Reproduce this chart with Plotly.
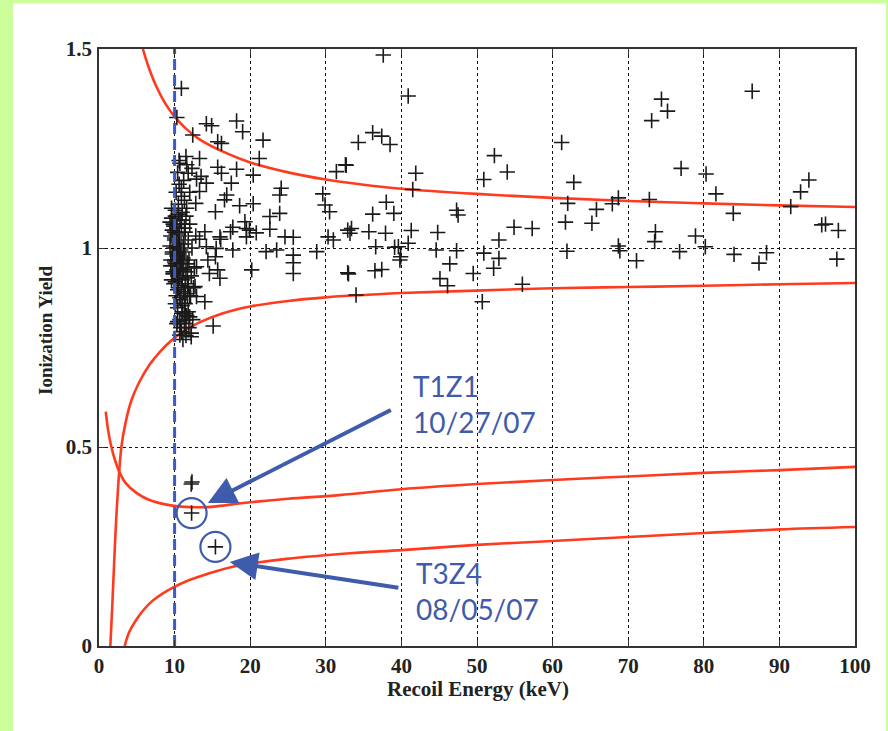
import plotly.graph_objects as go

# ---------------- data ----------------
# scattered events (recoil energy keV, ionization yield)
events_x = [
    37.6, 40.9, 34.3, 36.2, 37.4, 38.5, 32.7, 41.9, 41.5, 38.0, 36.2, 39.0, 33.4, 33.2, 35.7, 37.9, 41.3,
    39.6, 39.1, 40.9, 36.6, 39.8, 39.9, 33.0, 36.5, 37.4, 34.0, 44.8, 44.6, 47.3, 47.5, 47.3, 46.4, 45.1,
    46.1, 49.5, 50.7, 50.9, 52.9, 52.9, 52.2, 54.9, 57.3, 56.0, 50.9, 52.3, 54.0, 61.2, 62.8, 62.0, 65.8,
    61.7, 65.2, 61.9,
    74.4, 75.2, 73.1, 86.4, 77.0, 80.3, 81.6, 83.9, 93.9, 92.8, 91.5, 72.8, 68.7, 67.9, 73.6, 73.5, 68.7,
    68.9, 71.1, 76.8, 78.9, 80.2, 84.0, 87.3, 88.3, 95.6, 96.1, 97.8, 97.6,
    10.9, 10.3, 14.2, 14.9, 18.2, 19.0, 12.4, 21.7, 15.7, 16.2, 21.2, 13.3, 10.7, 11.6, 18.2, 15.7, 16.2,
    20.4, 11.8, 12.9, 17.5, 14.2, 10.9, 13.3, 16.9, 16.6, 24.1, 23.9, 12.8, 18.6, 20.4, 15.4, 23.9, 22.6,
    19.3, 17.7, 19.5, 19.9, 17.4, 20.8, 22.6, 14.0, 13.3, 16.0, 16.1, 19.5, 24.6, 25.7, 29.6, 29.9, 30.5,
    31.4, 32.6, 30.3, 31.0, 32.9, 32.9, 23.5, 25.7, 25.7, 25.7, 20.2, 22.1, 28.8, 17.7, 15.5, 15.4, 14.2,
    14.4, 12.9, 14.6, 16.0, 15.7, 14.0, 12.7, 12.9, 15.1, 12.2, 12.0, 11.5, 11.0, 11.3, 12.0, 11.8,
    9.6, 10.1, 10.5, 11.0, 11.6, 9.8, 10.3, 10.9, 11.4, 12.0, 9.5, 10.0, 10.6, 11.2, 11.8, 9.7, 10.2,
    10.8, 11.3, 12.3, 9.5, 10.1, 10.6, 11.1, 11.7, 9.8, 10.4, 11.0, 11.5, 12.2, 9.9, 10.5, 11.2, 11.8,
    10.2, 10.8, 11.4, 12.1, 10.4, 11.0, 11.6, 10.7, 11.3, 11.9, 10.9, 11.5, 12.4, 10.0, 10.7, 11.5,
    9.6, 10.3, 11.9, 12.6, 10.1, 10.6, 11.4, 12.8, 10.9, 10.2, 11.3, 9.9, 10.5, 11.7, 12.5, 10.3, 11.1,
    11.8, 10.8, 10.0, 10.4, 11.2, 12.3, 10.6, 12.0, 13.5, 10.6, 11.5, 12.2, 10.7,
    9.4, 9.7, 10.0, 10.3, 10.6, 10.9, 11.2, 9.5, 9.8, 10.1, 10.4, 10.7, 11.0, 11.3, 9.6, 9.9, 10.2,
    10.5, 10.8, 11.1, 9.4, 9.7, 10.0, 10.3, 10.6, 10.9, 11.4, 10.1, 10.5, 10.9, 11.3, 11.7, 10.4, 10.8,
    12.2, 12.3,
]
events_y = [
    1.485, 1.382, 1.265, 1.290, 1.281, 1.260, 1.208, 1.188, 1.147, 1.115, 1.085, 1.087, 1.049, 1.037,
    1.041, 1.037, 1.044, 1.003, 1.002, 1.012, 1.003, 0.970, 0.978, 0.935, 0.943, 0.946, 0.882, 1.039,
    0.995, 1.095, 1.083, 0.993, 0.960, 0.923, 0.905, 0.936, 0.865, 0.987, 1.020, 0.974, 0.949, 1.052,
    1.049, 0.909, 1.172, 1.232, 1.191, 1.265, 1.165, 1.112, 1.097, 1.065, 1.062, 0.992,
    1.374, 1.344, 1.320, 1.394, 1.200, 1.186, 1.136, 1.087, 1.171, 1.141, 1.104, 1.122, 1.126, 1.111,
    1.041, 1.016, 1.005, 0.993, 0.968, 0.991, 1.030, 1.003, 0.984, 0.962, 0.988, 1.058, 1.060, 1.044,
    0.972,
    1.401, 1.328, 1.312, 1.307, 1.319, 1.292, 1.284, 1.271, 1.267, 1.263, 1.225, 1.225, 1.213, 1.209,
    1.198, 1.203, 1.188, 1.183, 1.188, 1.173, 1.163, 1.163, 1.150, 1.142, 1.133, 1.121, 1.150, 1.133,
    1.112, 1.106, 1.111, 1.091, 1.087, 1.079, 1.066, 1.052, 1.049, 1.045, 1.041, 1.038, 1.047, 1.041,
    1.022, 1.028, 1.022, 1.028, 1.028, 1.027, 1.136, 1.108, 1.091, 1.192, 1.209, 1.028, 1.020, 1.045,
    0.938, 0.995, 0.982, 0.963, 0.936, 0.945, 0.991, 0.991, 0.995, 0.999, 0.978, 1.003, 0.970, 0.953,
    0.936, 0.924, 0.945, 0.865, 0.903, 0.878, 0.804, 0.786, 0.827, 0.819, 0.836, 0.861, 0.878, 0.903,
    1.10, 1.08, 1.11, 1.09, 1.10, 1.06, 1.05, 1.06, 1.04, 1.06, 1.03, 1.02, 1.03, 1.01, 1.02, 0.99,
    1.00, 0.98, 0.99, 1.00, 0.97, 0.96, 0.95, 0.97, 0.96, 0.94, 0.93, 0.92, 0.94, 0.93, 0.91, 0.90,
    0.89, 0.91, 0.88, 0.87, 0.86, 0.88, 0.85, 0.84, 0.83, 0.82, 0.81, 0.80, 0.79, 0.78, 0.82, 1.04,
    1.07, 1.08, 0.92, 0.98, 0.97, 0.95, 0.86, 1.01, 0.90, 1.03, 1.13, 1.14, 1.12, 1.00, 0.99, 0.88,
    0.90, 0.81, 0.77, 0.84, 0.95, 0.97, 1.19, 1.17, 1.20, 1.16, 1.14, 1.18, 1.22, 1.23, 0.777, 0.781,
    1.065, 1.045, 1.025, 1.005, 0.985, 0.965, 0.945, 0.955, 0.935, 0.915, 0.895, 0.875, 0.855, 0.835,
    1.075, 1.055, 1.035, 1.015, 0.995, 0.975, 1.005, 0.985, 0.965, 0.945, 0.925, 0.905, 0.885, 1.095,
    1.085, 1.070, 1.050, 0.925, 0.815, 0.800,
    0.407, 0.412,
]

# the two highlighted low-yield events
candidate_x = [12.25, 15.4]
candidate_y = [0.334, 0.249]
candidate_labels = ["T1Z1<br>10/27/07", "T3Z4<br>08/05/07"]

# electron-recoil band (upper / lower edge)
er_upper_x = [5.8, 6.5, 7.6, 8.8, 10, 11.5, 13.3, 16.4, 20, 25, 30, 35, 40, 50, 60, 70, 80, 90, 100]
er_upper_y = [1.50, 1.458, 1.405, 1.362, 1.330, 1.300, 1.273, 1.242, 1.215, 1.190, 1.172, 1.159,
              1.149, 1.136, 1.126, 1.118, 1.112, 1.107, 1.103]
er_lower_x = [1.5, 1.8, 2.0, 2.4, 2.96, 3.5, 4.3, 5.3, 6.7, 8.0, 9.6, 11.5, 13.3, 16.4, 20, 25, 30,
              35, 40, 50, 60, 70, 80, 90, 100]
er_lower_y = [0.0, 0.12, 0.208, 0.36, 0.50, 0.56, 0.618, 0.662, 0.707, 0.738, 0.768, 0.795, 0.813,
              0.836, 0.853, 0.867, 0.876, 0.882, 0.887, 0.893, 0.899, 0.902, 0.905, 0.909, 0.912]

# nuclear-recoil band (upper / lower edge)
nr_upper_x = [0.9, 1.2, 1.6, 2.1, 2.75, 3.5, 5.0, 6.5, 8.0, 9.9, 12, 14.3, 16, 18, 20.4, 25, 31.8,
              40, 50, 60, 70, 80, 90, 100]
nr_upper_y = [0.589, 0.543, 0.503, 0.468, 0.435, 0.410, 0.384, 0.368, 0.359, 0.352, 0.349, 0.349,
              0.352, 0.357, 0.362, 0.370, 0.379, 0.394, 0.407, 0.417, 0.426, 0.435, 0.442, 0.450]
nr_lower_x = [3.4, 4.0, 5.0, 6.0, 7.1, 8.5, 9.9, 11.5, 13.7, 15.5, 17.7, 20, 24.8, 33.2, 40, 50, 60,
              70, 80, 90, 100]
nr_lower_y = [0.0, 0.035, 0.068, 0.093, 0.114, 0.133, 0.148, 0.162, 0.177, 0.188, 0.199, 0.207,
              0.219, 0.233, 0.241, 0.254, 0.264, 0.274, 0.284, 0.293, 0.299]

# analysis threshold
threshold_keV = 10
x_ticks = [0, 10, 20, 30, 40, 50, 60, 70, 80, 90, 100]
y_ticks = [0, 0.5, 1, 1.5]

# ---------------- styling ----------------
RED = "#ff3b1f"
BLUE = "#3f5bab"
BLACK = "#1a1a1a"
SERIF = "Liberation Serif"

fig = go.Figure()

for cx, cy in [(er_upper_x, er_upper_y), (er_lower_x, er_lower_y),
               (nr_upper_x, nr_upper_y), (nr_lower_x, nr_lower_y)]:
    fig.add_trace(go.Scatter(x=cx, y=cy, mode="lines",
                             line=dict(color=RED, width=2.6, shape="spline", smoothing=1.0),
                             hoverinfo="skip", showlegend=False))

fig.add_trace(go.Scatter(x=events_x + candidate_x, y=events_y + candidate_y, mode="markers",
                         marker=dict(symbol="cross-thin", size=11,
                                     line=dict(width=1.6, color=BLACK)),
                         showlegend=False))

fig.add_trace(go.Scatter(x=[threshold_keV, threshold_keV], y=[0, 1.5], mode="lines",
                         line=dict(color="#3a5cc4", width=3, dash="11px,5px"),
                         showlegend=False))

fig.add_trace(go.Scatter(x=candidate_x, y=candidate_y, mode="markers",
                         marker=dict(symbol="circle-open", size=30, color=BLUE,
                                     line=dict(width=2.2, color=BLUE)),
                         showlegend=False))

# arrows + labels
arrow_specs = [
    dict(tip=(14.4, 0.359), tail=(38.8, 0.595), label_pos=(41.3, 0.608)),
    dict(tip=(17.3, 0.211), tail=(39.8, 0.146), label_pos=(41.7, 0.137)),
]
for spec, label in zip(arrow_specs, candidate_labels):
    fig.add_annotation(x=spec["tip"][0], y=spec["tip"][1], ax=spec["tail"][0], ay=spec["tail"][1],
                       xref="x", yref="y", axref="x", ayref="y", text="", showarrow=True,
                       arrowhead=2, arrowsize=1.4, arrowwidth=4, arrowcolor=BLUE)
    fig.add_annotation(x=spec["label_pos"][0], y=spec["label_pos"][1], xref="x", yref="y",
                       text=label, showarrow=False, xanchor="left", yanchor="middle", align="left",
                       font=dict(family="Lato", size=28, color=BLUE))

# axis titles
fig.add_annotation(x=(477.5 - 99) / 756, y=(646 - 689) / 597, xref="paper", yref="paper",
                   xanchor="center", yanchor="middle",
                   text="<b>Recoil Energy (keV)</b>", showarrow=False,
                   font=dict(family=SERIF, size=21, color="#222"))
fig.add_annotation(x=(45 - 99) / 756, y=(646 - 331) / 597, xref="paper", yref="paper",
                   xanchor="center", yanchor="middle",
                   text="<b>Ionization Yield</b>", showarrow=False, textangle=-90,
                   font=dict(family=SERIF, size=19, color="#222"))

# white panel on green frame
fig.add_shape(type="rect", xref="paper", yref="paper", layer="below",
              x0=(13 - 99) / 756, x1=(886 - 99) / 756,
              y0=(646 - 740) / 597, y1=(646 - 3.5) / 597,
              fillcolor="white", line=dict(width=0))

axis_common = dict(showgrid=True, gridcolor="#111", griddash="dot", gridwidth=1,
                   zeroline=False, showline=True, linecolor="#333", linewidth=1.5,
                   mirror="ticks", ticks="inside", ticklen=6, tickcolor="#333", tickwidth=1.2,
                   tickfont=dict(family=SERIF, size=21, color="#222", weight="bold"))

fig.update_xaxes(range=[0, 100], tickvals=x_ticks, ticklabelstandoff=0, **axis_common)
fig.update_yaxes(range=[0, 1.5], tickvals=y_ticks, ticklabelstandoff=1, **axis_common)

fig.update_layout(width=888, height=731,
                  margin=dict(l=99, r=33, t=49, b=85, pad=0),
                  paper_bgcolor="#ccff99", plot_bgcolor="white",
                  showlegend=False)

fig.write_html("out.html")
